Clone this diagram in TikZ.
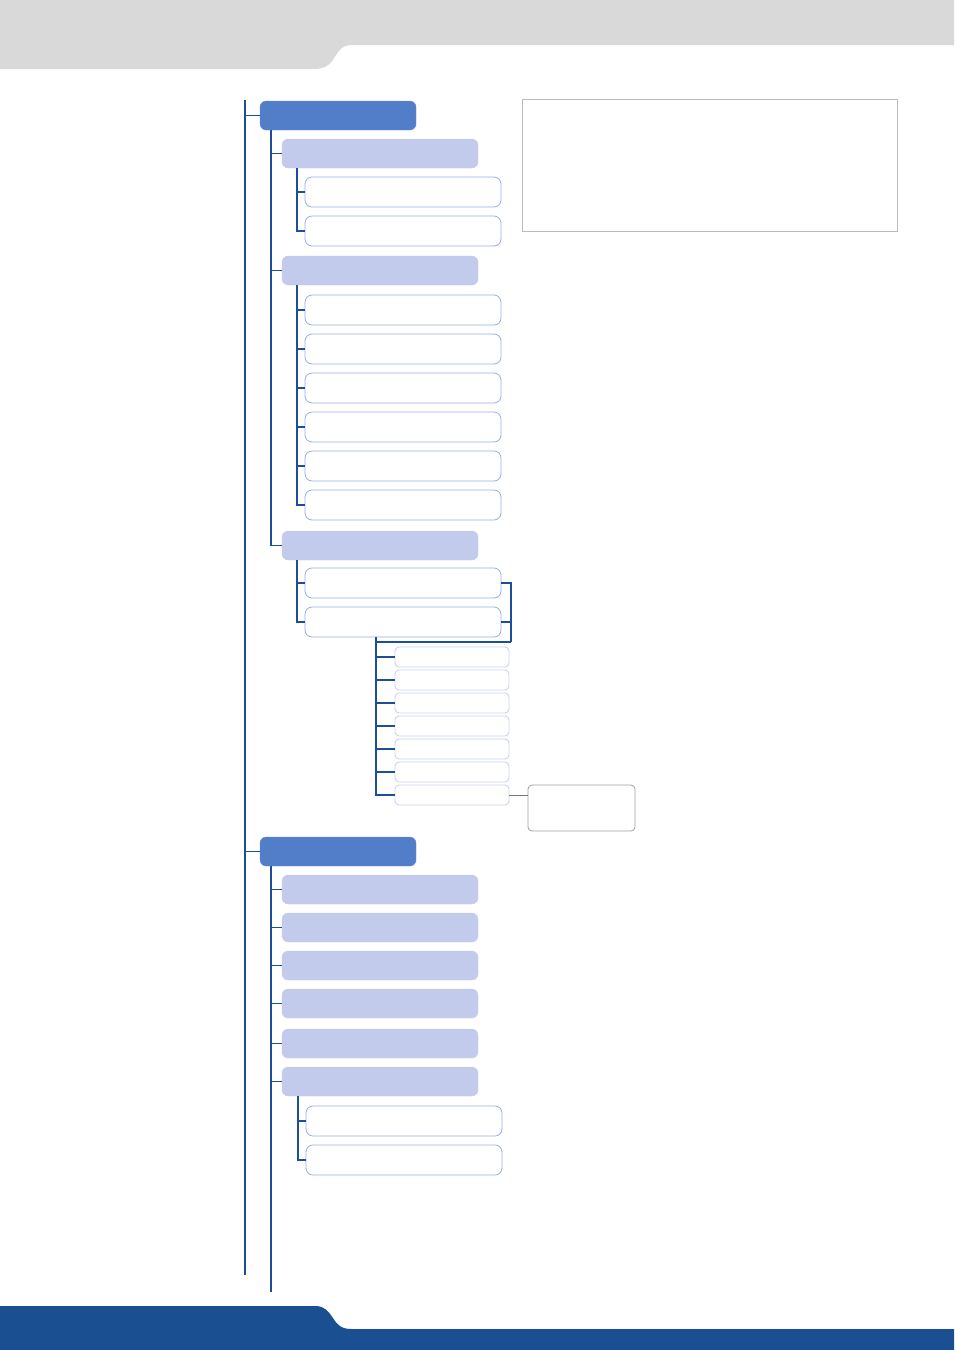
\documentclass[tikz,border=0pt]{standalone}
\usepackage{xcolor}
\usepackage{tikz}
\usetikzlibrary{calc, positioning}
\definecolor{HeadGray}{HTML}{D9D9D9}
\definecolor{FootBlue}{HTML}{1A4F92}
\definecolor{LinkBlue}{HTML}{1F4E98}
\definecolor{BoxDark}{HTML}{517DC9}
\definecolor{BoxLight}{HTML}{C2CBEB}
\definecolor{BoxEdge}{HTML}{9AAEE4}
\definecolor{BoxEdgeSoft}{HTML}{C9D3F1}
\definecolor{FrameGray}{HTML}{BBBBBB}
\tikzset{
  % Riquadri dell'albero
  box/.style={rounded corners=6pt,anchor=north west,inner sep=0,outer sep=0},
  box top/.style={box,fill=BoxDark,draw=BoxDark!85!white,minimum width=156,minimum height=29},
  box mid/.style={box,fill=BoxLight,draw=BoxLight!90!white,minimum width=196,minimum height=29},
  box leaf/.style={box,fill=white,draw=BoxEdge,line width=0.8,minimum width=196,minimum height=30,rounded corners=7pt},
  box tiny/.style={box,fill=white,draw=BoxEdgeSoft,line width=0.9,minimum width=114,minimum height=20,rounded corners=4pt},
  % Riquadri grigi
  note frame/.style={anchor=north west,inner sep=0,draw=FrameGray,line width=1.4,minimum width=375,minimum height=132},
  callout/.style={box,draw=FrameGray!85!black,line width=0.8,rounded corners=4pt,minimum width=107,minimum height=46},
  % Connessioni
  connect/.style={LinkBlue,line width=1.1},
  connect thick/.style={LinkBlue,line width=1.8},
  gray link/.style={gray!90!black,line width=1}
}
\begin{document}
\begin{tikzpicture}[x=1pt,y=-1pt]
  \useasboundingbox (0,0) rectangle (954,1350);
  % fasce di pagina
  \fill[HeadGray] (0,0) -- (954,0) -- (954,45) -- (352,45)
    .. controls (341,45) and (338,52) .. (333,60)
    .. controls (328,67) and (322,69) .. (313,69) -- (0,69) -- cycle;
  \fill[FootBlue] (0,1306) -- (315,1306)
    .. controls (325,1306) and (328,1311) .. (333,1318)
    .. controls (338,1326) and (342,1329) .. (352,1329)
    -- (954,1329) -- (954,1350) -- (0,1350) -- cycle;
  % riquadro note
  \node[note frame] (note) at (522,99) {};
  % primo livello
  \node[box top] (t1) at (260,101) {};
  \node[box top] (t2) at (260,837) {};
  \coordinate (spine) at (245,100);
  \coordinate (spine end) at (245,1275);
  \draw[connect] (spine) -- (spine end);
  \foreach \n in {t1,t2}
    \draw[connect] (spine |- \n.west) -- (\n.west);
  % secondo livello, primo ramo
  \foreach \y [count=\i] in {139,256,531}
    \node[box mid] (a\i) at (282,\y) {};
  \coordinate (ra) at (271,130);
  \draw[connect] (ra) |- (a3.west);
  \foreach \i in {1,2}
    \draw[connect] (ra |- a\i.west) -- (a\i.west);
  % terzo livello
  \foreach \y [count=\i] in {177,216}
    \node[box leaf] (a1\i) at (305,\y) {};
  \foreach \y [count=\i] in {295,334,373,412,451,490}
    \node[box leaf] (a2\i) at (305,\y) {};
  \foreach \y [count=\i] in {568,607}
    \node[box leaf] (a3\i) at (305,\y) {};
  \coordinate (ra1) at ($(a1.south west)+(15,0)$);
  \coordinate (ra2) at ($(a2.south west)+(15,0)$);
  \coordinate (ra3) at ($(a3.south west)+(15,0)$);
  \draw[connect thick] (ra1) |- (a12.west);
  \draw[connect thick] (ra1 |- a11.west) -- (a11.west);
  \draw[connect thick] (ra2) |- (a26.west);
  \foreach \i in {1,...,5}
    \draw[connect thick] (ra2 |- a2\i.west) -- (a2\i.west);
  \draw[connect thick] (ra3) |- (a32.west);
  \draw[connect thick] (ra3 |- a31.west) -- (a31.west);
  % parentesi a destra
  \coordinate (bk) at (511,642);
  \draw[connect thick] (a31.east) -| (bk);
  \draw[connect thick] (a32.east) -- (a32.east -| bk);
  % quarto livello
  \foreach \y [count=\i] in {647,670,693,716,739,762,785}
    \node[box tiny] (d\i) at (395,\y) {};
  \coordinate (rd) at ($(a32.south west)+(71,0)$);
  \draw[connect thick] (bk) -- (bk -| rd);
  \draw[connect thick] (rd) |- (d7.west);
  \foreach \i in {1,...,6}
    \draw[connect thick] (rd |- d\i.west) -- (d\i.west);
  % richiamo grigio
  \node[callout] (cl) at (528,785) {};
  \draw[gray link] (d7.east) -- (d7.east -| cl.west);
  % secondo livello, secondo ramo
  \foreach \y [count=\i] in {875,913,951,989,1029,1067}
    \node[box mid] (b\i) at (282,\y) {};
  \coordinate (rb) at (271,866);
  \coordinate (rb end) at (271,1292);
  \draw[connect] (rb) -- (rb end);
  \foreach \i in {1,...,6}
    \draw[connect] (rb |- b\i.west) -- (b\i.west);
  \foreach \y [count=\i] in {1106,1145}
    \node[box leaf] (b6\i) at (306,\y) {};
  \coordinate (rb6) at ($(b6.south west)+(16,0)$);
  \draw[connect] (rb6) |- (b62.west);
  \draw[connect] (rb6 |- b61.west) -- (b61.west);
\end{tikzpicture}
\end{document}
